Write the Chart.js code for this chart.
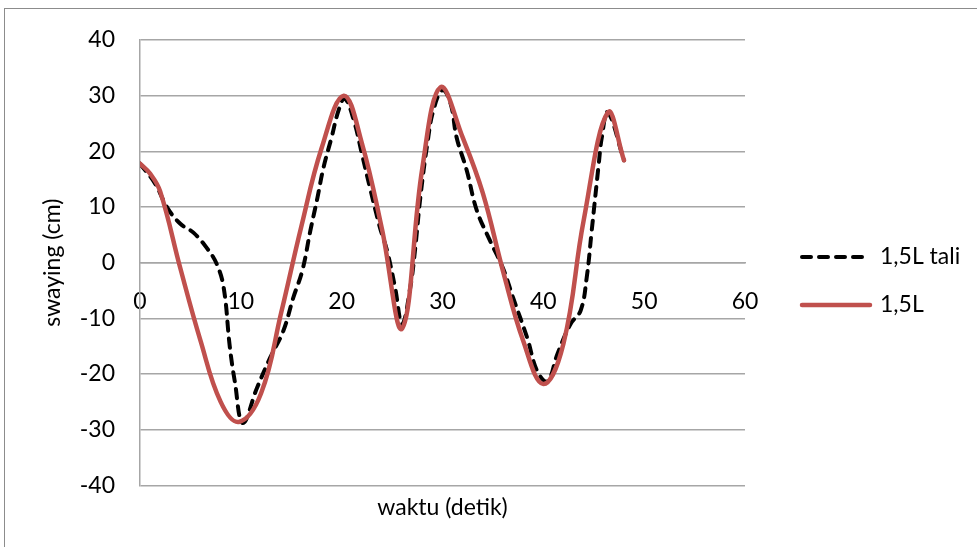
<!DOCTYPE html>
<html>
<head>
<meta charset="utf-8">
<script src="https://cdn.jsdelivr.net/npm/chart.js@4"></script>
<style>
  body { margin: 0; background: #fff; }
  canvas { display: block; }
</style>
</head>
<body>
<canvas id="swaying-chart" width="977" height="547"></canvas>
<script>
// swaying vs waktu

const xTicks = [0, 10, 20, 30, 40, 50, 60];
const yTicks = [-40, -30, -20, -10, 0, 10, 20, 30, 40];

// 1,5L tali (dashed black)
const timeTali = [0, 1.5, 2.7, 4, 5.3, 6.6, 7.6, 8.3, 8.9, 9.4, 10.2, 11.6, 12.9, 14.2, 15.2, 16.1, 16.9, 17.6, 18.2, 19, 19.7, 20.3, 21.2, 22, 22.8, 23.8, 24.5, 25.3, 26, 26.8, 27.3, 27.8, 28.5, 29.1, 30, 30.8, 31.4, 32.4, 33.4, 34.7, 36, 37, 38.4, 39.4, 40.4, 41.4, 42.7, 43.7, 44.3, 44.8, 45.5, 45.8, 46.4, 48];
const swayTali = [17.8, 14.2, 9.9, 7, 5.4, 2.7, -0.2, -4.5, -15, -21.3, -28.8, -22.5, -17.1, -12.3, -6.3, -1.4, 5.8, 11.7, 17.1, 22.5, 27.4, 29.5, 25.6, 19.6, 13.5, 6.3, 2.2, -4.5, -11, -4.5, 2.7, 11.7, 21.4, 27.4, 31, 28.6, 22.5, 16.6, 9.4, 4, -1, -6.3, -13.5, -19.5, -21.3, -16.4, -11, -8.6, -2.7, 5.8, 17.8, 22.5, 27, 18.4];

// 1,5L (solid red)
const time15L = [0, 1, 2, 4, 6, 8, 9.8, 12, 14, 16, 18, 20.2, 22, 24, 26, 28, 29.8, 32, 34, 36, 38, 40, 42, 44, 46.4, 48];
const sway15L = [17.8, 16, 12.8, -1, -14, -25, -28.6, -23.5, -9, 6.5, 20.5, 30, 21.5, 6, -11.8, 17, 31.5, 22.5, 12.5, -1.5, -14, -21.8, -14.5, 7.6, 27, 18.4];

const FONT = 'Lato';
const GRID = '#a6a6a6';

function toPoints(xs, ys) {
    return xs.map((x, i) => ({ x: x, y: ys[i] }));
}

// draws the legend to the right of the plot and the frame round the chart
const sideLegend = {
    id: 'sideLegend',
    afterDraw(chart) {
        const ctx = chart.ctx;
        const x0 = chart.chartArea.right + 57;
        ctx.save();
        chart.data.datasets.forEach((ds, i) => {
            const y = 257 + i * 48;
            ctx.strokeStyle = ds.borderColor;
            ctx.lineWidth = ds.borderWidth;
            ctx.lineCap = 'round';
            ctx.setLineDash(ds.borderDash || []);
            ctx.beginPath();
            ctx.moveTo(x0, y);
            ctx.lineTo(x0 + 68, y);
            ctx.stroke();
            ctx.setLineDash([]);
            ctx.fillStyle = '#000';
            ctx.font = '23px ' + FONT;
            ctx.textBaseline = 'middle';
            ctx.fillText(ds.label, x0 + 78, y);
        });
        ctx.strokeStyle = '#8c8c8c';
        ctx.lineWidth = 1;
        ctx.strokeRect(4.5, 8.5, 1000, 600);
        ctx.restore();
    }
};

const ctx = document.getElementById('swaying-chart').getContext('2d');

new Chart(ctx, {
    type: 'scatter',
    data: {
        datasets: [
            {
                label: '1,5L tali',
                data: toPoints(timeTali, swayTali),
                showLine: true,
                borderColor: '#000000',
                borderWidth: 4,
                borderDash: [9, 8],
                borderCapStyle: 'round',
                pointRadius: 0,
                tension: 0.4,
                order: 1
            },
            {
                label: '1,5L',
                data: toPoints(time15L, sway15L),
                showLine: true,
                borderColor: '#c0504d',
                borderWidth: 4.5,
                borderCapStyle: 'round',
                pointRadius: 0,
                tension: 0.4,
                order: 0
            }
        ]
    },
    options: {
        responsive: false,
        animation: false,
        layout: {
            padding: { left: 0, top: 40, right: 232, bottom: 0 }
        },
        plugins: {
            legend: { display: false },
            tooltip: { enabled: false }
        },
        scales: {
            x: {
                type: 'linear',
                position: { y: 0 },
                min: 0,
                max: 60,
                afterBuildTicks: (scale) => {
                    scale.ticks = xTicks.map(v => ({ value: v }));
                },
                grid: { display: false },
                border: { display: true, color: GRID, width: 1.5 },
                ticks: {
                    color: '#000',
                    font: { family: FONT, size: 23 },
                    padding: 17,
                    maxRotation: 0
                }
            },
            xTitle: {
                type: 'linear',
                axis: 'x',
                position: 'bottom',
                grid: { display: false },
                border: { display: false },
                ticks: { display: false },
                title: {
                    display: true,
                    text: 'waktu (detik)',
                    color: '#000',
                    font: { family: FONT, size: 23 },
                    padding: { top: 0, bottom: 26 }
                }
            },
            y: {
                type: 'linear',
                min: -40,
                max: 40,
                afterBuildTicks: (scale) => {
                    scale.ticks = yTicks.map(v => ({ value: v }));
                },
                afterFit: (scale) => {
                    scale.width = 140;
                },
                grid: { color: GRID, lineWidth: 1.5, drawTicks: false },
                border: { display: true, color: GRID, width: 1.5 },
                ticks: {
                    color: '#000',
                    font: { family: FONT, size: 23 },
                    padding: 25
                },
                title: {
                    display: true,
                    text: 'swaying (cm)',
                    color: '#000',
                    font: { family: FONT, size: 23 },
                    padding: { top: 39 }
                }
            }
        }
    },
    plugins: [sideLegend]
});
</script>
</body>
</html>
